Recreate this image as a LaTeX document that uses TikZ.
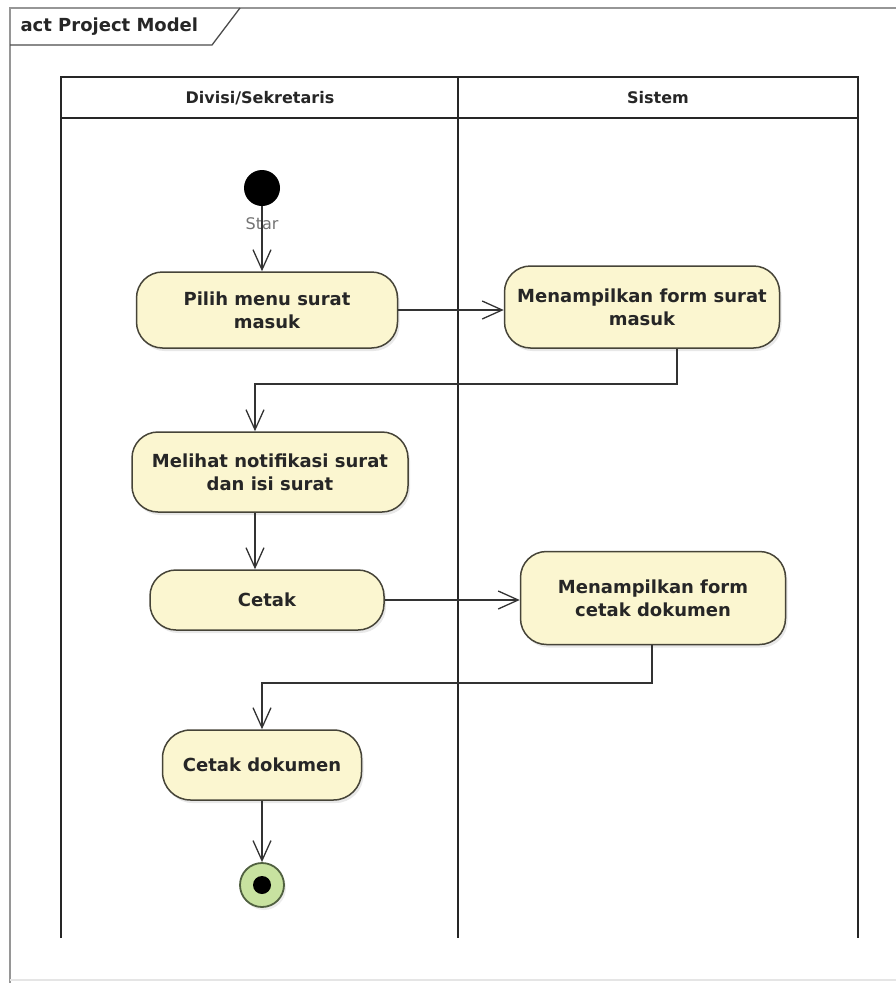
\documentclass[tikz,border=0pt]{standalone}
\usepackage{fontspec}
\setmainfont{DejaVu Sans}
\usetikzlibrary{arrows.meta,shadows}
\definecolor{actfill}{RGB}{251,246,208}
\definecolor{actdraw}{RGB}{70,68,56}
\definecolor{endfill}{RGB}{200,226,160}
\definecolor{endline}{RGB}{80,96,64}
\definecolor{framegray}{RGB}{150,150,150}
\tikzset{
  x=1pt, y=-1pt,
  action/.style={draw=actdraw, line width=1.5pt, fill=actfill, rounded corners=26pt,
    align=center, font=\fontsize{18}{23}\selectfont\bfseries, text=black!85,
    drop shadow={shadow xshift=2pt, shadow yshift=-3pt, opacity=0.18}},
  flow/.style={draw=black!80, line width=1.6pt,
    -{Straight Barb[length=20pt,width=18pt,line width=1.3pt]}},
  lane/.style={draw=black!85, line width=2.2pt},
}
\begin{document}
\begin{tikzpicture}
\useasboundingbox (0,0) rectangle (896,983);
% outer frame and title tab
\draw[framegray, line width=2pt] (10,983) -- (10,8) -- (896,8);
\draw[black!10, line width=1.5pt] (10,980) -- (896,980);
\draw[black!70, line width=1.3pt] (10,45) -- (212,45) -- (240,8);
\node[anchor=west, font=\fontsize{18}{20}\selectfont\bfseries, text=black!85] (title) at (17,27) {act Project Model};

% swimlanes
\draw[lane] (61,938) -- (61,77) -- (858,77) -- (858,938);
\draw[lane] (61,118) -- (858,118);
\draw[lane] (458,77) -- (458,938);
\node[font=\fontsize{16}{18}\selectfont\bfseries, text=black!85] (laneA) at (260,98) {Divisi/Sekretaris};
\node[font=\fontsize{16}{18}\selectfont\bfseries, text=black!85] (laneB) at (658,98) {Sistem};

% initial and final nodes
\node[circle, fill=black, minimum size=36pt, inner sep=0pt] (start) at (262,188) {};
\node[font=\fontsize{16}{18}\selectfont, text=black!55] (startlbl) at (262,224) {Star};
\node[circle, draw=endline, line width=1.8pt, fill=endfill, minimum size=44pt, inner sep=0pt,
      drop shadow={shadow xshift=2pt, shadow yshift=-3pt, opacity=0.15}] (end) at (262,885) {};
\node[circle, fill=black, minimum size=18pt, inner sep=0pt] (endin) at (end) {};

% actions
\node[action, minimum width=261pt, minimum height=76pt] (n1) at (267,310) {Pilih menu surat\\masuk};
\node[action, minimum width=275pt, minimum height=82pt] (n2) at (642,307) {Menampilkan form surat\\masuk};
\node[action, minimum width=276pt, minimum height=80pt] (n3) at (270,472) {Melihat notifikasi surat\\dan isi surat};
\node[action, minimum width=234pt, minimum height=60pt] (n4) at (267,600) {Cetak};
\node[action, minimum width=265pt, minimum height=93pt] (n5) at (653,598) {Menampilkan form\\cetak dokumen};
\node[action, minimum width=199pt, minimum height=70pt, rounded corners=28pt] (n6) at (262,765) {Cetak dokumen};

% control flows
\draw[flow] (start) -- (start |- n1.north);
\draw[flow] (n1.east) -- (n1.east -| n2.west);
\draw[flow] ([xshift=35pt]n2.south) -- ++(0,35) -| ([xshift=-15pt]n3.north);
\draw[flow] ([xshift=-15pt]n3.south) -- ([xshift=-15pt]n3.south |- n4.north);
\draw[flow] (n4.east) -- (n4.east -| n5.west);
\draw[flow] ([xshift=-1pt]n5.south) -- ++(0,38) -| (n6.north);
\draw[flow] (n6.south) -- (end.north);
\end{tikzpicture}
\end{document}
